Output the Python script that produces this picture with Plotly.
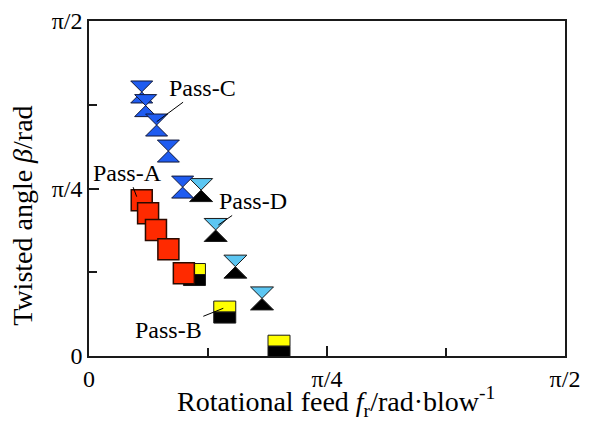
import numpy as np
import plotly.graph_objects as go

PI = np.pi

# ---- data (radians) ----
passA_x = [0.174, 0.195, 0.221, 0.262, 0.313]
passA_y = [0.730, 0.669, 0.591, 0.500, 0.388]

passB_x = [0.348, 0.448, 0.627]
passB_y = [0.382, 0.206, 0.046]

passC_x = [0.174, 0.187, 0.223, 0.262, 0.309]
passC_y = [1.238, 1.174, 1.083, 0.961, 0.792]

passD_x = [0.370, 0.418, 0.483, 0.571]
passD_y = [0.778, 0.591, 0.419, 0.270]

major_ticks = [0, PI / 4, PI / 2]
major_text = ["0", "π/4", "π/2"]
minor_ticks = [PI / 8, 3 * PI / 8]

FONT = "Liberation Serif"
EDGE = "#1a1a1a"
RED = "#ff2a00"
BLUE = "#1f5cf0"
LIGHT = "#5cc6f2"
YELLOW = "#ffff00"

fig = go.Figure()

# split-colour markers (Pass-B squares, Pass-D hourglasses) as pixel-sized shapes anchored at data
shapes = []
s = 11
h = 11.5


def half_shape(x, y, path, color):
    return dict(type="path", xref="x", yref="y", xsizemode="pixel", ysizemode="pixel",
                xanchor=x, yanchor=y, layer="between", opacity=1,
                path=path, fillcolor=color, line=dict(color=EDGE, width=1))


for x, y in zip(passB_x, passB_y):
    shapes.append(half_shape(x, y, f"M{-s},0 L{s},0 L{s},{s} L{-s},{s} Z", YELLOW))
    shapes.append(half_shape(x, y, f"M{-s},{-s} L{s},{-s} L{s},0 L{-s},0 Z", "#000000"))
for x, y in zip(passD_x, passD_y):
    shapes.append(half_shape(x, y, f"M{-h},{h} L{h},{h} L0,0 Z", LIGHT))
    shapes.append(half_shape(x, y, f"M{-h},{-h} L{h},{-h} L0,0 Z", "#000000"))

fig.add_trace(go.Scatter(x=passC_x, y=passC_y, mode="markers", name="Pass-C",
                         marker=dict(symbol="hourglass", size=22, color=BLUE,
                                     line=dict(color="#10183a", width=1))))
fig.add_trace(go.Scatter(x=passA_x, y=passA_y, mode="markers", name="Pass-A",
                         marker=dict(symbol="square", size=21, color=RED,
                                     line=dict(color="#2a0a00", width=1.5))))

ann_font = dict(family=FONT, size=24, color="#000")
annotations = [
    dict(x=0.2234, y=1.0986, text="Pass-C", ax=46, ay=-34),
    dict(x=0.1574, y=0.747, text="Pass-A", ax=-9, ay=-24),
    dict(x=0.4267, y=0.6143, text="Pass-D", ax=35, ay=-24),
    dict(x=0.4432, y=0.2237, text="Pass-B", ax=-55, ay=22),
]
for a in annotations:
    a.update(xref="x", yref="y", showarrow=True, arrowhead=0, arrowwidth=1,
             arrowcolor="#000", font=ann_font, standoff=0)

title_font = dict(family=FONT, size=28, color="#000")
# axis titles
annotations.append(dict(xref="paper", yref="paper", x=0.519, y=-0.137, xanchor="center",
                        yanchor="middle", showarrow=False, font=title_font,
                        text="Rotational feed <i>f</i><sub>r</sub>/rad·blow<sup>-1</sup>"))
annotations.append(dict(xref="paper", yref="paper", x=-0.103, y=0.42, xanchor="right",
                        yanchor="middle", showarrow=False, font=title_font, textangle=-90,
                        text="Twisted angle <i>β</i>/rad"))

axis_common = dict(
    automargin=False,
    showgrid=False, zeroline=False, showline=True, mirror=True,
    linecolor=EDGE, linewidth=1.5, ticks="inside", ticklen=10, tickwidth=1.5,
    tickcolor=EDGE, tickfont=dict(family=FONT, size=24, color="#000"),
    tickvals=major_ticks, ticktext=major_text,
    minor=dict(tickvals=minor_ticks, ticks="inside", ticklen=8, tickwidth=1.5, tickcolor=EDGE),
    range=[0, PI / 2],
)

fig.update_layout(
    template="simple_white",
    width=590, height=421,
    margin=dict(l=89, r=25, t=21, b=65),
    plot_bgcolor="white", paper_bgcolor="white",
    showlegend=False,
    shapes=shapes,
    annotations=annotations,
    xaxis=axis_common,
    yaxis=axis_common,
)

fig.write_html("out.html", config={"displayModeBar": False},
               post_script="document.body.style.margin='0';")
